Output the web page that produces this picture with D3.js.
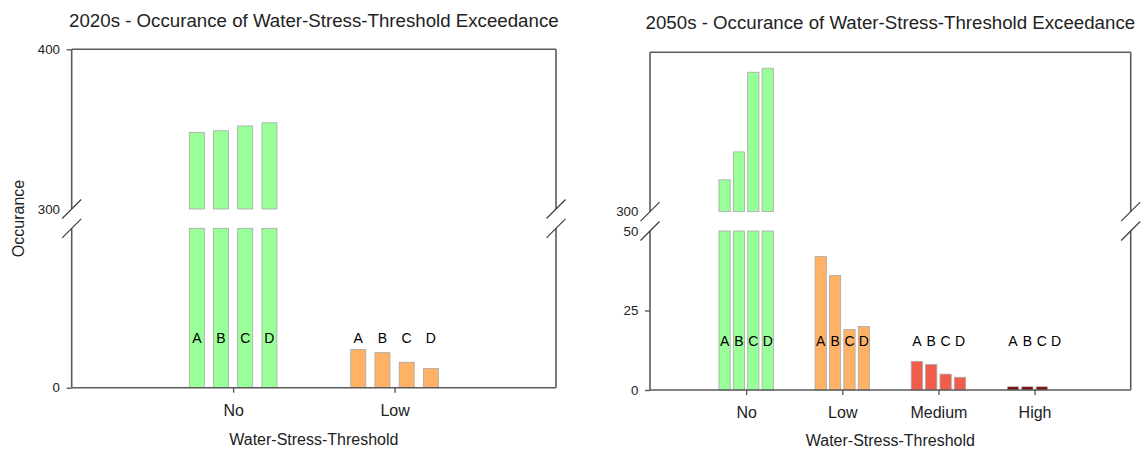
<!DOCTYPE html>
<html>
<head>
<meta charset="utf-8">
<script src="https://cdn.jsdelivr.net/npm/d3@7"></script>
<style>
  body { margin: 0; background: #fff; }
  text { font-family: "Liberation Sans", Arial, sans-serif; fill: #222; }
</style>
</head>
<body>
<script>
// scenarios inside every threshold group
let scenarios = ['A', 'B', 'C', 'D'];

// 2020s
let cats2020 = ['No', 'Low'];
let no2020 = [348, 349, 352, 354];
let low2020 = [12, 11, 8, 6];
let upperTicks2020 = [300, 400];
let lowerTicks2020 = [0];

// 2050s
let cats2050 = ['No', 'Low', 'Medium', 'High'];
let no2050 = [308, 315, 335, 336];
let low2050 = [42, 36, 19, 20];
let medium2050 = [9, 8, 5, 4];
let high2050 = [1, 1, 1, 0];
let upperTicks2050 = [300];
let lowerTicks2050 = [0, 25, 50];

let colors = { No: '#99ff99', Low: '#ffb266', Medium: '#f25c4b', High: '#7d0000' };

let svg = d3.select('body').append('svg')
        .attr('width', 1141)
        .attr('height', 453);

function drawPanel(p) {
  let g = svg.append('g');

  let x = d3.scalePoint()
          .domain(p.categories)
          .range([p.left, p.right])
          .padding(1);

  let inner = d3.scaleBand()
          .domain(scenarios)
          .range([-p.groupWidth / 2, p.groupWidth / 2])
          .paddingInner(p.barPad);

  let yUpper = d3.scaleLinear().domain(p.upperDomain).range([p.breakHigh, p.top]);
  let yLower = d3.scaleLinear().domain(p.lowerDomain).range([p.bottom, p.breakLow]);

  let rows = [];
  p.categories.forEach((c, i) => {
    p.values[i].forEach((v, j) => rows.push({ cat: c, scen: scenarios[j], value: v }));
  });

  let lowMax = p.lowerDomain[1];
  let upMin = p.upperDomain[0];

  // lower part of each bar
  g.selectAll('rect.low')
          .data(rows.filter(d => d.value > 0))
          .enter()
          .append('rect')
          .attr('x', d => x(d.cat) + inner(d.scen))
          .attr('width', inner.bandwidth())
          .attr('y', d => yLower(Math.min(d.value, lowMax)))
          .attr('height', d => p.bottom - yLower(Math.min(d.value, lowMax)))
          .attr('fill', d => colors[d.cat])
          .attr('stroke', '#a8a8a8')
          .attr('stroke-width', 0.8);

  // upper part (above the break)
  g.selectAll('rect.up')
          .data(rows.filter(d => d.value > upMin))
          .enter()
          .append('rect')
          .attr('x', d => x(d.cat) + inner(d.scen))
          .attr('width', inner.bandwidth())
          .attr('y', d => yUpper(d.value))
          .attr('height', d => p.breakHigh - yUpper(d.value))
          .attr('fill', d => colors[d.cat])
          .attr('stroke', '#a8a8a8')
          .attr('stroke-width', 0.8);

  // scenario letters
  g.selectAll('text.scen')
          .data(rows)
          .enter()
          .append('text')
          .attr('x', d => x(d.cat) + inner(d.scen) + inner.bandwidth() / 2)
          .attr('y', yLower(15.5))
          .attr('dy', '0.36em')
          .style('text-anchor', 'middle')
          .style('font-size', '14px')
          .style('fill', '#000')
          .text(d => d.scen);

  // frame
  let frame = '#5a5a5a';
  let seg = (x1, y1, x2, y2, col, w) => g.append('line')
          .attr('x1', x1).attr('y1', y1).attr('x2', x2).attr('y2', y2)
          .attr('stroke', col).attr('stroke-width', w);

  seg(p.left, p.top, p.right, p.top, frame, 1.6);
  seg(p.left, p.bottom, p.right, p.bottom, frame, 1.6);
  [p.left, p.right].forEach(xx => {
    seg(xx, p.top, xx, p.breakHigh, frame, 1.6);
    seg(xx, p.breakLow, xx, p.bottom, frame, 1.6);
    [p.breakHigh, p.breakLow].forEach(yy => seg(xx - 9.5, yy + 9.5, xx + 9.5, yy - 9.5, '#333', 1.1));
  });

  // y axes
  let upAxis = g.append('g')
          .attr('transform', 'translate(' + p.left + ',0)')
          .call(d3.axisLeft(yUpper).tickValues(p.upperTicks).tickSize(5).tickPadding(6.7));
  let lowAxis = g.append('g')
          .attr('transform', 'translate(' + p.left + ',0)')
          .call(d3.axisLeft(yLower).tickValues(p.lowerTicks).tickSize(5).tickPadding(6.7));

  [upAxis, lowAxis].forEach(a => {
    a.select('.domain').remove();
    a.selectAll('line').attr('stroke', frame).attr('stroke-width', 1.4);
    a.selectAll('text')
            .style('font-size', '13.3px')
            .style('font-family', '"Liberation Sans", Arial, sans-serif')
            .attr('fill', '#222');
  });
  upAxis.selectAll('.tick').filter(d => d === upMin).select('line').remove();
  lowAxis.selectAll('.tick').filter(d => d === lowMax).select('line').remove();

  // x axis
  let xAxis = g.append('g')
          .attr('transform', 'translate(0,' + p.bottom + ')')
          .call(d3.axisBottom(x).tickSize(5).tickPadding(11.5));
  xAxis.select('.domain').remove();
  xAxis.selectAll('line').attr('stroke', frame).attr('stroke-width', 1.4);
  xAxis.selectAll('text')
          .style('font-size', '16px')
          .style('font-family', '"Liberation Sans", Arial, sans-serif')
          .attr('fill', '#222');

  // titles
  g.append('text')
          .attr('x', (p.left + p.right) / 2)
          .attr('y', p.titleY)
          .style('text-anchor', 'middle')
          .style('font-size', '18.7px')
          .text(p.title);

  g.append('text')
          .attr('x', (p.left + p.right) / 2)
          .attr('y', p.xTitleY)
          .style('text-anchor', 'middle')
          .style('font-size', '16px')
          .text('Water-Stress-Threshold');

  if (p.yTitle) {
    g.append('text')
            .attr('transform', 'rotate(-90)')
            .attr('x', -(p.top + p.bottom) / 2)
            .attr('y', 18.3)
            .attr('dy', '0.36em')
            .style('text-anchor', 'middle')
            .style('font-size', '16px')
            .text(p.yTitle);
  }
}

drawPanel({
  title: '2020s - Occurance of Water-Stress-Threshold Exceedance',
  yTitle: 'Occurance',
  categories: cats2020,
  values: [no2020, low2020],
  upperDomain: [300, 400],
  lowerDomain: [0, 50],
  upperTicks: upperTicks2020,
  lowerTicks: lowerTicks2020,
  left: 71.7, right: 556,
  top: 49.3, breakHigh: 209, breakLow: 228.3, bottom: 387.7,
  groupWidth: 87.6, barPad: 0.38,
  titleY: 27, xTitleY: 445
});

drawPanel({
  title: '2050s - Occurance of Water-Stress-Threshold Exceedance',
  categories: cats2050,
  values: [no2050, low2050, medium2050, high2050],
  upperDomain: [300, 340],
  lowerDomain: [0, 50],
  upperTicks: upperTicks2050,
  lowerTicks: lowerTicks2050,
  left: 650, right: 1130.7,
  top: 52.3, breakHigh: 211.7, breakLow: 231, bottom: 390,
  groupWidth: 54.4, barPad: 0.22,
  titleY: 28.5, xTitleY: 446.4
});
</script>
</body>
</html>
